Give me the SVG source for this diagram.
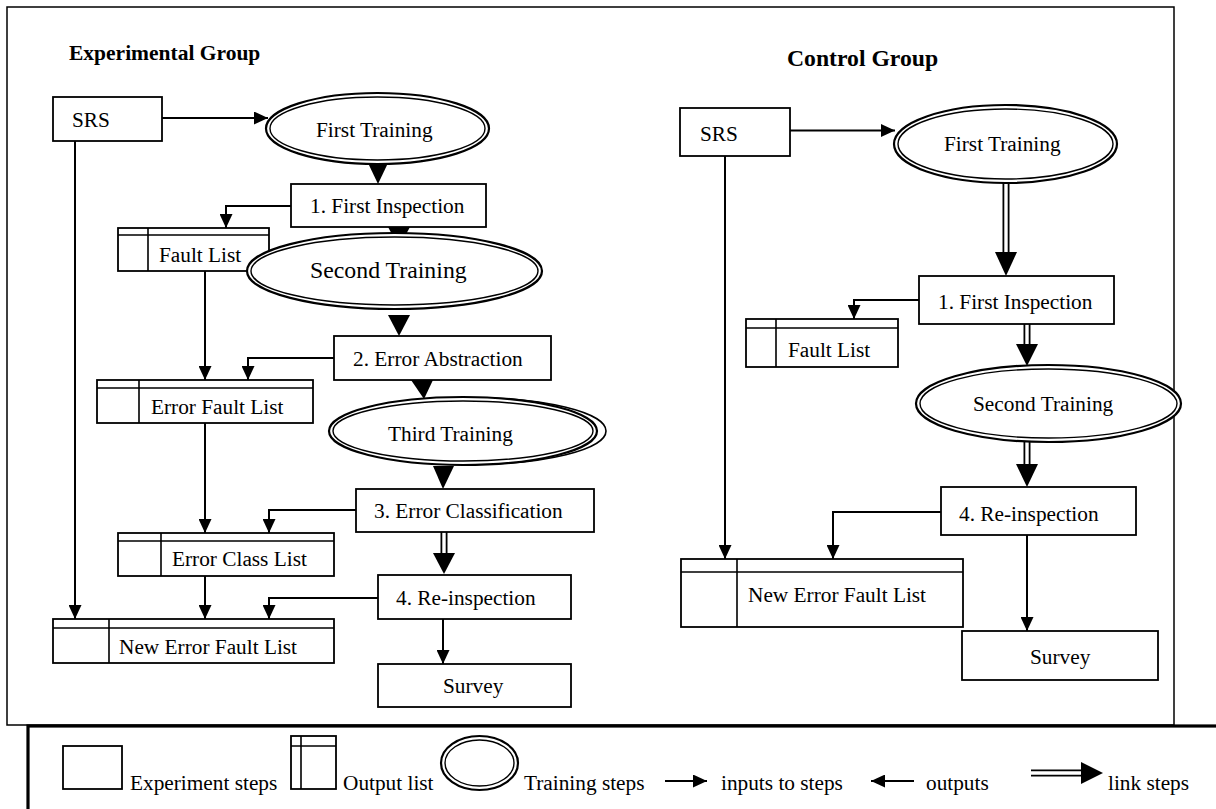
<svg xmlns="http://www.w3.org/2000/svg" width="1216" height="809" viewBox="0 0 1216 809">
<style>
text{font-family:"Liberation Serif","Times New Roman",serif;font-size:21.3px;fill:#000}
.b{font-weight:bold}
.box{fill:#fff;stroke:#000;stroke-width:1.8}
.ln{fill:none;stroke:#000;stroke-width:1.6}
.eo{fill:#fff;stroke:#000;stroke-width:2.2}
.ei{fill:none;stroke:#000;stroke-width:1.4}
.c{fill:none;stroke:#000;stroke-width:2}
.dk{fill:none;stroke:#000;stroke-width:7}
.dw{fill:none;stroke:#fff;stroke-width:3.4}
.hd{fill:#000;stroke:none}
</style>
<defs>
<marker id="arr" markerUnits="userSpaceOnUse" markerWidth="14" markerHeight="13" refX="14" refY="6.5" orient="auto">
<path d="M0,0 L14,6.5 L0,13 Z" fill="#000"/>
</marker>
</defs>

<g id="frame">
<rect x="7" y="7" width="1167" height="718" fill="none" stroke="#000" stroke-width="1.5"/>
</g>

<g id="titles">
<text class="b" x="69" y="60" style="font-size:21.5px">Experimental Group</text>
<text class="b" x="787" y="66" style="font-size:23.7px">Control Group</text>
</g>

<g id="connectors">
<!-- experimental group -->
<path class="c" d="M162,118 H268" marker-end="url(#arr)"/>
<polygon class="hd" points="368,163 388,163 378,184"/>
<path class="c" d="M291,206 H226 V228" marker-end="url(#arr)"/>
<polygon class="hd" points="388,227 410,227 399,247"/>
<polygon class="hd" points="388,315 410,315 399,336"/>
<path class="c" d="M334,358 H248 V380" marker-end="url(#arr)"/>
<path class="c" d="M205,271 V380" marker-end="url(#arr)"/>
<polygon class="hd" points="411,380 433,380 424,399"/>
<polygon class="hd" points="433,466 454,466 443,489"/>
<path class="c" d="M356,510 H269 V533" marker-end="url(#arr)"/>
<path class="c" d="M205,423 V533" marker-end="url(#arr)"/>
<path class="dk" d="M444,532 V554"/><path class="dw" d="M444,531 V555"/>
<polygon class="hd" points="433,553 455,553 444,574"/>
<path class="c" d="M443,619 V664" marker-end="url(#arr)"/>
<path class="c" d="M378,598 H269 V619" marker-end="url(#arr)"/>
<path class="c" d="M205,576 V619" marker-end="url(#arr)"/>
<path class="c" d="M75,141 V619" marker-end="url(#arr)"/>
<!-- control group -->
<path class="c" d="M790,130.5 H895" marker-end="url(#arr)"/>
<path class="dk" d="M1006,183 V253"/><path class="dw" d="M1006,182 V254"/>
<polygon class="hd" points="995,252 1017,252 1006,276"/>
<path class="c" d="M919,300 H854 V319" marker-end="url(#arr)"/>
<path class="dk" d="M1027,324 V345"/><path class="dw" d="M1027,323 V346"/>
<polygon class="hd" points="1016,344 1038,344 1027,366"/>
<path class="dk" d="M1027,442 V465"/><path class="dw" d="M1027,441 V466"/>
<polygon class="hd" points="1016,464 1038,464 1027,487"/>
<path class="c" d="M941,512 H833 V559" marker-end="url(#arr)"/>
<path class="c" d="M1027,535 V631" marker-end="url(#arr)"/>
<path class="c" d="M725,156 V559" marker-end="url(#arr)"/>
</g>

<!-- Experimental group nodes -->
<g id="e-srs"><rect class="box" x="53" y="97" width="109" height="44"/><text x="72" y="127">SRS</text></g>
<g id="e-first-training"><ellipse class="eo" cx="377.5" cy="128.5" rx="111.5" ry="35.5"/><ellipse class="ei" cx="377.5" cy="128.5" rx="107.5" ry="31.5"/><text x="316" y="137">First Training</text></g>
<g id="e-first-inspection"><rect class="box" x="291" y="184" width="195" height="43"/><text x="310" y="213">1. First Inspection</text></g>
<g id="e-fault-list"><rect class="box" x="118" y="228" width="151" height="43"/><path class="ln" d="M118,235 H269 M148,228 V271"/><text x="159" y="262">Fault List</text></g>
<g id="e-second-training"><ellipse class="eo" cx="394.5" cy="271" rx="147.5" ry="38"/><ellipse class="ei" cx="394.5" cy="271" rx="143.5" ry="34"/><text x="310" y="278" style="font-size:23.8px">Second Training</text></g>
<g id="e-error-abstraction"><rect class="box" x="334" y="336" width="217" height="44"/><text x="353" y="366">2. Error Abstraction</text></g>
<g id="e-error-fault-list"><rect class="box" x="97" y="380" width="216" height="43"/><path class="ln" d="M97,388 H313 M139,380 V423"/><text x="151" y="414">Error Fault List</text></g>
<g id="e-third-training"><ellipse class="ln" cx="469" cy="431" rx="137" ry="33.5"/><ellipse class="eo" cx="463" cy="431" rx="134" ry="34"/><ellipse class="ei" cx="463" cy="431" rx="130" ry="30"/><text x="388" y="441">Third Training</text></g>
<g id="e-error-classification"><rect class="box" x="356" y="489" width="238" height="43"/><text x="374" y="518">3. Error Classification</text></g>
<g id="e-error-class-list"><rect class="box" x="118" y="533" width="216" height="43"/><path class="ln" d="M118,541 H334 M161,533 V576"/><text x="172" y="566">Error Class List</text></g>
<g id="e-reinspection"><rect class="box" x="378" y="575" width="193" height="44"/><text x="396" y="605">4. Re-inspection</text></g>
<g id="e-new-error-fault-list"><rect class="box" x="53" y="619" width="281" height="44"/><path class="ln" d="M53,628 H334 M109,619 V663"/><text x="119" y="654">New Error Fault List</text></g>
<g id="e-survey"><rect class="box" x="378" y="664" width="193" height="43"/><text x="443" y="693">Survey</text></g>

<!-- Control group nodes -->
<g id="c-srs"><rect class="box" x="680" y="108" width="110" height="48"/><text x="700" y="141">SRS</text></g>
<g id="c-first-training"><ellipse class="eo" cx="1005.5" cy="144" rx="111.5" ry="39"/><ellipse class="ei" cx="1005.5" cy="144" rx="107.5" ry="35"/><text x="944" y="151">First Training</text></g>
<g id="c-first-inspection"><rect class="box" x="919" y="276" width="195" height="48"/><text x="938" y="309">1. First Inspection</text></g>
<g id="c-fault-list"><rect class="box" x="746" y="319" width="152" height="48"/><path class="ln" d="M746,328 H898 M776,319 V367"/><text x="788" y="357">Fault List</text></g>
<g id="c-second-training"><ellipse class="eo" cx="1048.5" cy="403.5" rx="132.5" ry="38.5"/><ellipse class="ei" cx="1048.5" cy="403.5" rx="128.5" ry="34.5"/><text x="973" y="411">Second Training</text></g>
<g id="c-reinspection"><rect class="box" x="941" y="487" width="195" height="48"/><text x="959" y="521">4. Re-inspection</text></g>
<g id="c-new-error-fault-list"><rect class="box" x="681" y="559" width="282" height="68"/><path class="ln" d="M681,572 H963 M737,559 V627"/><text x="748" y="602">New Error Fault List</text></g>
<g id="c-survey"><rect class="box" x="962" y="631" width="196" height="49"/><text x="1030" y="664">Survey</text></g>

<!-- Legend -->
<g id="legend">
<rect x="28" y="726" width="1200" height="100" fill="#fff" stroke="#000" stroke-width="3.2"/>
<rect class="box" x="63" y="746" width="59" height="43"/>
<text x="130" y="790">Experiment steps</text>
<rect class="box" x="291" y="736" width="45" height="53"/>
<path class="ln" d="M291,746 H336 M301,736 V789"/>
<text x="343" y="790">Output list</text>
<ellipse class="eo" cx="479.5" cy="763" rx="38.5" ry="27"/>
<ellipse class="ei" cx="479.5" cy="763" rx="34.5" ry="23"/>
<text x="524" y="790">Training steps</text>
<path class="c" d="M665,781 H707" marker-end="url(#arr)"/>
<text x="721" y="790">inputs to steps</text>
<path class="c" d="M914,781 H871" marker-end="url(#arr)"/>
<text x="926" y="790">outputs</text>
<path class="dk" d="M1031,773 H1083"/><path class="dw" d="M1030,773 H1084"/>
<polygon class="hd" points="1081,762 1103,773 1081,784"/>
<text x="1108" y="790">link steps</text>
</g>
</svg>
